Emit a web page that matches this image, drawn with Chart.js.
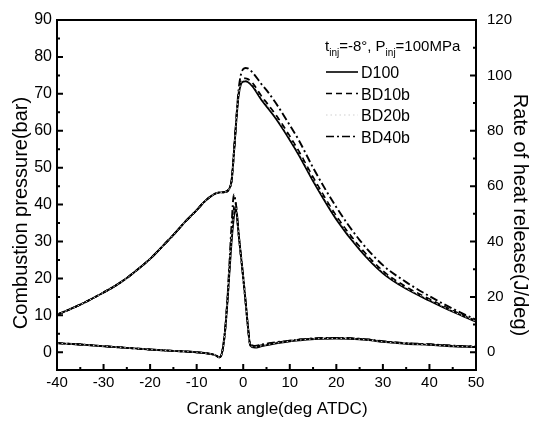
<!DOCTYPE html>
<html>
<head>
<meta charset="utf-8">
<title>Combustion pressure and heat release</title>
<script src="https://cdn.jsdelivr.net/npm/chart.js@4/dist/chart.umd.min.js"></script>
<style>
    html, body { margin: 0; padding: 0; background: #fff; }
    #wrap { width: 535px; height: 421px; }
</style>
</head>
<body>
<div id="wrap"><canvas id="combChart" width="535" height="421"></canvas></div>
<script>
// crank angle samples (deg ATDC)
const pressureAngles = [-40, -37.5, -35, -32.5, -30, -27.5, -25, -22.5, -20, -17.5, -15, -12.5, -10, -8.5, -7, -6, -5, -4, -3, -2.5, -2, -1.5, -1, -0.5, 0, 0.5, 1, 2, 4, 5, 7, 10, 12, 15, 20, 25, 30, 35, 40, 45, 50];
const heatAngles = [-40, -35, -30, -25, -20, -15, -10, -7, -6, -5.2, -4.6, -4, -3.4, -3, -2.5, -2, -1.7, -1.4, -1, -0.5, 0, 0.5, 1, 1.5, 2.5, 4, 6, 9, 12, 16, 20, 23, 27, 30, 35, 40, 45, 50];

// cylinder pressure (bar)
const pressD100  = [10.2, 11.5, 12.9, 14.5, 16.2, 18.0, 20.1, 22.6, 25.3, 28.5, 31.8, 35.3, 38.5, 40.6, 42.2, 43.0, 43.3, 43.4, 44.3, 46.5, 54.0, 62.5, 69.5, 72.6, 73.3, 73.4, 73.2, 72.0, 68.2, 66.6, 63.3, 57.5, 53.3, 46.4, 36.0, 27.8, 21.4, 17.2, 14.0, 11.0, 8.3];
const pressBD10b = [10.2, 11.5, 12.9, 14.5, 16.2, 18.0, 20.1, 22.6, 25.3, 28.5, 31.8, 35.3, 38.5, 40.6, 42.2, 43.0, 43.3, 43.4, 44.3, 46.5, 54.0, 62.7, 69.9, 73.3, 74.1, 74.2, 74.0, 72.9, 69.2, 67.6, 64.3, 58.5, 54.3, 47.4, 36.9, 28.6, 22.0, 17.7, 14.4, 11.3, 8.5];
const pressBD20b = [10.2, 11.5, 12.9, 14.5, 16.2, 18.0, 20.1, 22.6, 25.3, 28.5, 31.8, 35.3, 38.5, 40.6, 42.2, 43.0, 43.3, 43.4, 44.3, 46.5, 54.0, 62.6, 69.7, 73.0, 73.7, 73.8, 73.6, 72.4, 68.7, 67.1, 63.8, 58.0, 53.8, 46.9, 36.5, 28.2, 21.7, 17.4, 14.2, 11.1, 8.4];
const pressBD40b = [10.2, 11.5, 12.9, 14.5, 16.2, 18.0, 20.1, 22.6, 25.3, 28.5, 31.8, 35.3, 38.5, 40.6, 42.2, 43.0, 43.3, 43.4, 44.3, 46.5, 54.0, 63.0, 71.0, 75.2, 76.7, 77.0, 76.9, 75.8, 72.5, 71.0, 67.5, 61.5, 57.3, 50.0, 39.3, 30.4, 23.6, 19.0, 15.2, 11.8, 8.8];

// rate of heat release (J/deg)
const heatD100  = [3.3, 2.8, 2.2, 1.6, 1.0, 0.5, 0.0, -0.6, -1.0, -1.8, -0.5, 6, 18, 28, 40, 49, 52, 50, 43, 35, 27, 18.5, 9.5, 2.5, 1.7, 2.2, 2.9, 3.7, 4.3, 4.9, 5.0, 4.9, 4.4, 3.8, 3.1, 2.7, 2.2, 1.9];
const heatBD10b = [3.3, 2.8, 2.2, 1.6, 1.0, 0.5, 0.0, -0.6, -1.0, -1.8, -0.5, 6, 18.5, 29, 42, 52, 54, 51, 43, 35, 27, 18.5, 9.5, 2.8, 2.1, 2.6, 3.2, 3.9, 4.5, 5.0, 5.1, 5.0, 4.5, 3.9, 3.2, 2.8, 2.3, 2.0];
const heatBD20b = [3.3, 2.8, 2.2, 1.6, 1.0, 0.5, 0.0, -0.6, -1.0, -1.8, -0.5, 6, 18.2, 28.5, 41, 51, 53, 50.5, 43, 35, 27, 18.5, 9.5, 2.6, 1.9, 2.4, 3.0, 3.8, 4.4, 4.9, 5.0, 4.9, 4.4, 3.8, 3.1, 2.7, 2.2, 1.9];
const heatBD40b = [3.3, 2.8, 2.2, 1.6, 1.0, 0.5, 0.0, -0.6, -1.0, -1.8, -0.5, 6.5, 19, 31, 46, 57, 55, 51, 43, 35, 27, 18.5, 9.5, 3.0, 2.3, 2.8, 3.4, 4.0, 4.6, 5.1, 5.2, 5.1, 4.6, 4.0, 3.3, 2.9, 2.4, 2.1];

// axis tick labels
const angleTicks = [-40, -30, -20, -10, 0, 10, 20, 30, 40, 50];
const pressureTicks = [0, 10, 20, 30, 40, 50, 60, 70, 80, 90];
const heatTicks = [0, 20, 40, 60, 80, 100, 120];

const fuels = ['D100', 'BD10b', 'BD20b', 'BD40b'];
const FONT = "'Liberation Sans', Arial, sans-serif";

const lineStyles = {
    D100:  { color: '#000', dash: [] },
    BD10b: { color: '#000', dash: [6, 4] },
    BD20b: { color: '#cfcfcf', dash: [1.5, 3] },
    BD40b: { color: '#000', dash: [8, 3, 2, 3] }
};

function series(angles, values) {
    return angles.map((a, i) => ({ x: a, y: values[i] }));
}

function makeDataset(name, angles, values, axis) {
    const st = lineStyles[name];
    return {
        label: name,
        data: series(angles, values),
        yAxisID: axis,
        borderColor: st.color,
        borderDash: st.dash,
        borderWidth: name === 'BD20b' ? 1 : 1.9,
        pointRadius: 0,
        fill: false,
        cubicInterpolationMode: 'monotone'
    };
}

const datasets = [
    makeDataset('BD20b', pressureAngles, pressBD20b, 'y'),
    makeDataset('BD40b', pressureAngles, pressBD40b, 'y'),
    makeDataset('BD10b', pressureAngles, pressBD10b, 'y'),
    makeDataset('D100', pressureAngles, pressD100, 'y'),
    makeDataset('BD20b', heatAngles, heatBD20b, 'y1'),
    makeDataset('BD40b', heatAngles, heatBD40b, 'y1'),
    makeDataset('BD10b', heatAngles, heatBD10b, 'y1'),
    makeDataset('D100', heatAngles, heatD100, 'y1')
];

function fixedTicks(list) {
    return (scale) => { scale.ticks = list.map(v => ({ value: v })); };
}

// frame, inward tick marks, axis titles and legend
const framePlugin = {
    id: 'frame',
    afterDraw(chart) {
        const { ctx, chartArea: ca, scales } = chart;
        ctx.save();
        ctx.strokeStyle = '#000';
        ctx.lineWidth = 2;
        ctx.setLineDash([]);
        ctx.strokeRect(ca.left, ca.top, ca.right - ca.left, ca.bottom - ca.top);

        ctx.beginPath();
        // x axis: majors every 10, minors in between
        angleTicks.forEach((v, i) => {
            let px = scales.x.getPixelForValue(v);
            ctx.moveTo(px, ca.bottom); ctx.lineTo(px, ca.bottom - 6);
            if (i < angleTicks.length - 1) {
                px = scales.x.getPixelForValue(v + 5);
                ctx.moveTo(px, ca.bottom); ctx.lineTo(px, ca.bottom - 3);
            }
        });
        pressureTicks.forEach((v, i) => {
            let py = scales.y.getPixelForValue(v);
            ctx.moveTo(ca.left, py); ctx.lineTo(ca.left + 6, py);
            if (i < pressureTicks.length - 1) {
                py = scales.y.getPixelForValue(v + 5);
                ctx.moveTo(ca.left, py); ctx.lineTo(ca.left + 3, py);
            }
        });
        heatTicks.forEach((v, i) => {
            let py = scales.y1.getPixelForValue(v);
            ctx.moveTo(ca.right, py); ctx.lineTo(ca.right - 6, py);
            if (i < heatTicks.length - 1) {
                py = scales.y1.getPixelForValue(v + 10);
                ctx.moveTo(ca.right, py); ctx.lineTo(ca.right - 3, py);
            }
        });
        ctx.stroke();

        // axis titles
        ctx.fillStyle = '#000';
        ctx.textAlign = 'center';
        ctx.textBaseline = 'alphabetic';
        ctx.font = '17px ' + FONT;
        ctx.fillText('Crank angle(deg ATDC)', 277, 414);

        ctx.font = '20px ' + FONT;
        ctx.save();
        ctx.translate(27, 213);
        ctx.rotate(-Math.PI / 2);
        ctx.fillText('Combustion pressure(bar)', 0, 0);
        ctx.restore();

        ctx.save();
        ctx.translate(514, 215);
        ctx.rotate(Math.PI / 2);
        ctx.fillText('Rate of heat release(J/deg)', 0, 0);
        ctx.restore();

        // legend heading with subscripts
        ctx.textAlign = 'left';
        let x = 325;
        const base = 51;
        const parts = [['t', false], ['inj', true], ['=-8\u00b0, P', false], ['inj', true], ['=100MPa', false]];
        parts.forEach(([txt, sub]) => {
            ctx.font = (sub ? '10px ' : '15px ') + FONT;
            ctx.fillText(txt, x, sub ? base + 5 : base);
            x += ctx.measureText(txt).width;
        });

        // legend rows
        ctx.font = '16px ' + FONT;
        fuels.forEach((name, i) => {
            const y = 78 + i * 21.5;
            const st = lineStyles[name];
            ctx.strokeStyle = st.color;
            ctx.lineWidth = name === 'BD20b' ? 1 : 1.6;
            ctx.setLineDash(st.dash);
            ctx.beginPath();
            ctx.moveTo(326, y - 6);
            ctx.lineTo(358, y - 6);
            ctx.stroke();
            ctx.setLineDash([]);
            ctx.fillText(name, 361, y);
        });
        ctx.restore();
    }
};

const ctx = document.getElementById('combChart').getContext('2d');

const combChart = new Chart(ctx, {
    type: 'line',
    data: { datasets: datasets },
    options: {
        responsive: false,
        animation: false,
        layout: { padding: { top: 16, left: 0, right: 0, bottom: 0 } },
        plugins: {
            legend: { display: false },
            tooltip: { enabled: false }
        },
        scales: {
            x: {
                type: 'linear',
                min: -40,
                max: 50,
                afterBuildTicks: fixedTicks(angleTicks),
                afterFit: (s) => { s.height = 51; },
                grid: { display: false, drawTicks: false },
                border: { display: false },
                ticks: { color: '#000', padding: 4, maxRotation: 0, font: { family: FONT, size: 15 } }
            },
            y: {
                position: 'left',
                min: -4.8,
                max: 90,
                afterBuildTicks: fixedTicks(pressureTicks),
                afterFit: (s) => { s.width = 57; },
                grid: { display: false, drawTicks: false },
                border: { display: false },
                ticks: { color: '#000', padding: 5, font: { family: FONT, size: 16 } }
            },
            y1: {
                position: 'right',
                min: -6.4,
                max: 120,
                afterBuildTicks: fixedTicks(heatTicks),
                afterFit: (s) => { s.width = 59; },
                grid: { display: false, drawTicks: false },
                border: { display: false },
                ticks: { color: '#000', padding: 11, font: { family: FONT, size: 15 } }
            }
        }
    },
    plugins: [framePlugin]
});
</script>
</body>
</html>
